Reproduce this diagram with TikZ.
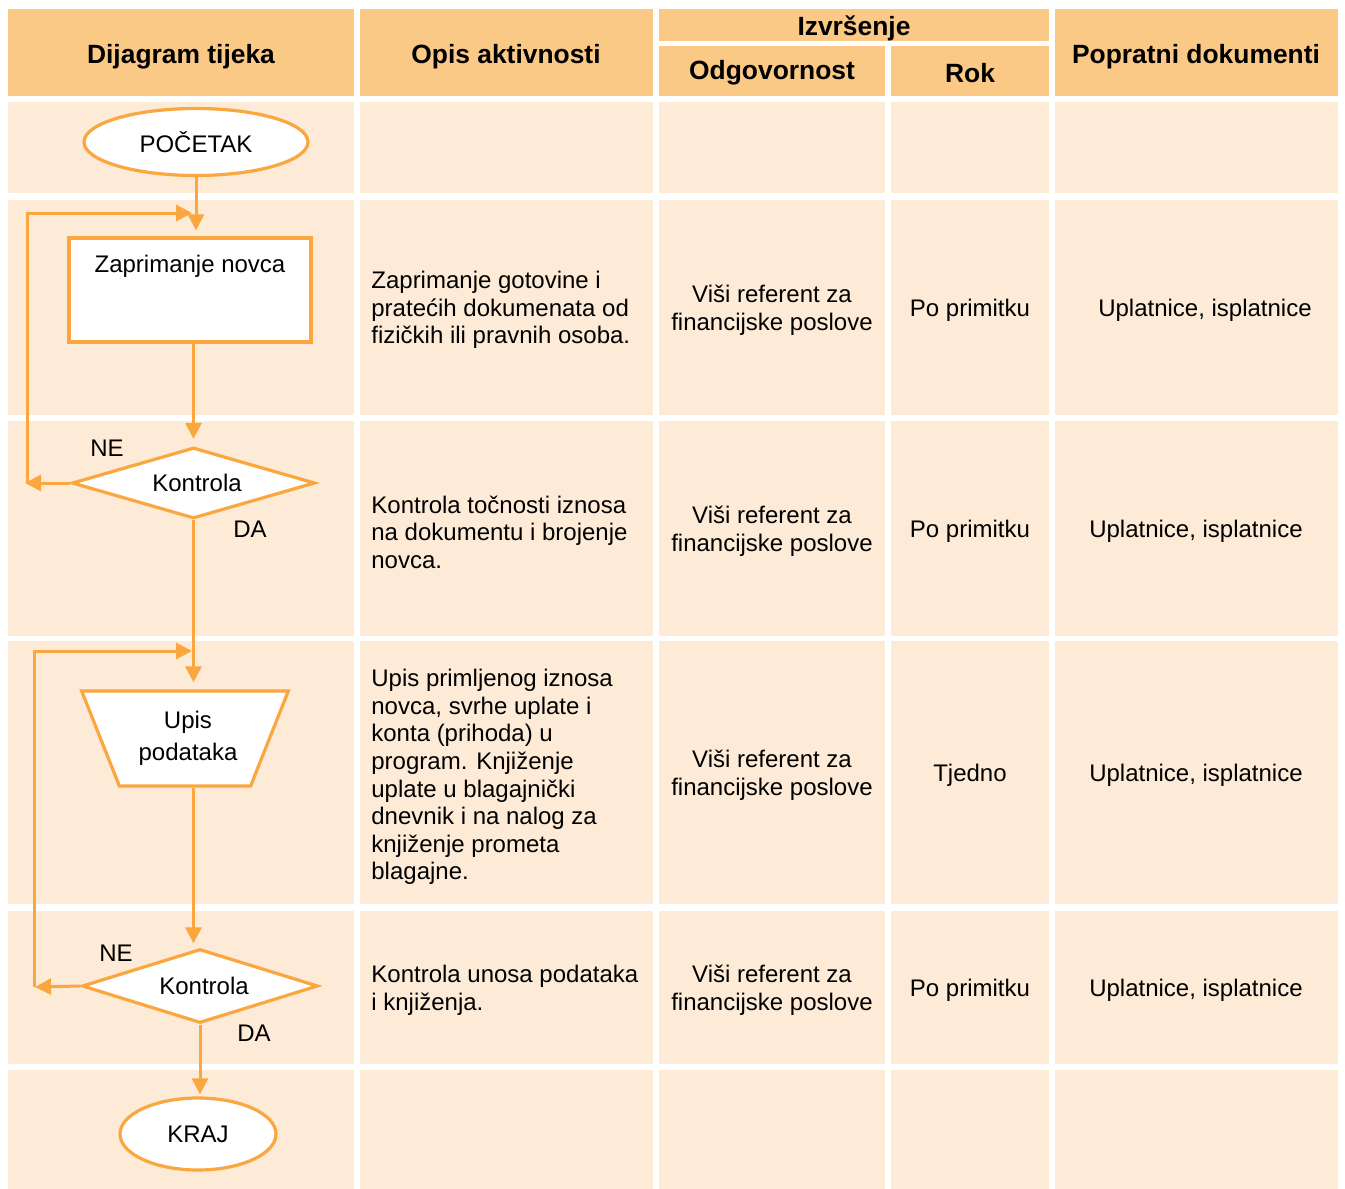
\documentclass[tikz,border=0pt]{standalone}
\usepackage{fontspec}
\setmainfont{Liberation Sans}
\usetikzlibrary{shapes.geometric,arrows.meta,calc}
\definecolor{hdr}{HTML}{FBC986}
\definecolor{cellc}{HTML}{FDEBD7}
\definecolor{lnc}{HTML}{F9A73E}
\begin{document}
\begin{tikzpicture}[x=0.5pt,y=-0.5pt,
 htext/.style={font=\fontsize{13.2}{15}\selectfont\bfseries, inner sep=0},
 btext/.style={font=\fontsize{12}{13.8}\selectfont, align=center, inner sep=0},
 ltext/.style={font=\fontsize{12}{13.8}\selectfont, align=left, inner sep=0, anchor=west},
 fbox/.style={draw=lnc, line width=1.6pt, fill=white, inner sep=0, font=\fontsize{12}{13.8}\selectfont},
 conn/.style={draw=lnc, line width=1.5pt},
 arr/.style={conn, -{Triangle[length=8pt,width=8pt]}},
]
\useasboundingbox (0,0) rectangle (1345,1189);
% header cells
\fill[hdr] (8,9) rectangle (354,96);
\fill[hdr] (360,9) rectangle (653,96);
\fill[hdr] (659,9) rectangle (1049,41);
\fill[hdr] (659,46) rectangle (885,96);
\fill[hdr] (891,46) rectangle (1049,96);
\fill[hdr] (1055,9) rectangle (1338,96);
% body cells
\foreach \ya/\yb in {102/193,200/415,421/636,641/904,911/1064,1070/1189}{
  \foreach \xa/\xb in {8/354,360/653,659/885,891/1049,1055/1338}{
    \fill[cellc] (\xa,\ya) rectangle (\xb,\yb);
  }
}
% header texts
\node[htext] (h1) at (181,57) {Dijagram tijeka};
\node[htext] (h2) at (506,57) {Opis aktivnosti};
\node[htext] (h3) at (854,28) {Izvršenje};
\node[htext] (h4) at (772,73) {Odgovornost};
\node[htext] (h5) at (970,73) {Rok};
\node[htext] (h6) at (1196,57) {Popratni dokumenti};
% row 2
\node[ltext] (o2) at (371,310) {Zaprimanje gotovine i\\pratećih dokumenata od\\fizičkih ili pravnih osoba.};
\node[btext] (a2) at (772,310) {Viši referent za\\financijske poslove};
\node[btext] (k2) at (970,310) {Po primitku};
\node[btext] (p2) at (1205,310) {Uplatnice, isplatnice};
% row 3
\node[ltext] (o3) at (371,532) {Kontrola točnosti iznosa\\na dokumentu i brojenje\\novca.};
\node[btext] (a3) at (772,531) {Viši referent za\\financijske poslove};
\node[btext] (k3) at (970,531) {Po primitku};
\node[btext] (p3) at (1196,531) {Uplatnice, isplatnice};
% row 4
\node[ltext] (o4) at (371,777) {Upis primljenog iznosa\\novca, svrhe uplate i\\konta (prihoda) u\\program. Knjiženje\\uplate u blagajnički\\dnevnik i na nalog za\\knjiženje prometa\\blagajne.};
\node[btext] (a4) at (772,775) {Viši referent za\\financijske poslove};
\node[btext] (k4) at (970,775) {Tjedno};
\node[btext] (p4) at (1196,775) {Uplatnice, isplatnice};
% row 5
\node[ltext] (o5) at (371,990) {Kontrola unosa podataka\\i knjiženja.};
\node[btext] (a5) at (772,990) {Viši referent za\\financijske poslove};
\node[btext] (k5) at (970,990) {Po primitku};
\node[btext] (p5) at (1196,990) {Uplatnice, isplatnice};
% flowchart
\node[fbox, ellipse, minimum width=112pt, minimum height=33.5pt] (start) at (196,142) {POČETAK};
\node[fbox, rectangle, minimum width=121pt, minimum height=52pt] (r1) at (190,290) {};
\node[btext] (r1t) at (190,266) {Zaprimanje novca};
\node[fbox, diamond, aspect=3.4, minimum width=121.5pt, minimum height=35.5pt] (d1) at (193.5,483) {\hspace{3.5pt}Kontrola};
\node[btext] (ne1) at (107,448) {NE};
\node[btext] (da1) at (250,529) {DA};
\node[fbox, trapezium, shape border rotate=180, trapezium left angle=61, trapezium right angle=61, trapezium stretches=true, minimum width=103.5pt, minimum height=47.5pt, align=center, font=\fontsize{12}{16}\selectfont] (tr) at (185,738.5) {\hspace{3pt}Upis\\\hspace{3pt}podataka};
\node[fbox, diamond, aspect=3.2, minimum width=118pt, minimum height=37pt] (d2) at (200,986) {\hspace{4pt}Kontrola};
\node[btext] (ne2) at (116,953) {NE};
\node[btext] (da2) at (254,1033) {DA};
\node[fbox, ellipse, minimum width=78pt, minimum height=36pt] (end) at (198,1134) {KRAJ};
% connectors
\coordinate (l1a) at (25,483);
\coordinate (l1b) at (27,483);
\coordinate (l1c) at (27,213);
\coordinate (l1d) at (192,213);
\coordinate (l2a) at (35,987);
\coordinate (l2b) at (34,987);
\coordinate (l2c) at (34,651);
\coordinate (l2d) at (192,651);
\draw[arr, shorten >=3pt] (start.south) -- (start.south |- r1.north);
\draw[arr, shorten >=3.5pt] (d1.north |- r1.south) -- (d1.north);
\draw[arr] (d1.west) -- (l1a);
\draw[arr] (l1b) -- (l1c) -- (l1d);
\draw[arr, shorten >=3.5pt] (d1.south) -- (d1.south |- tr.north);
\draw[arr] (l2b) -- (l2c) -- (l2d);
\draw[arr, shorten >=2pt] (tr.south -| d1.south) -- (d1.south |- d2.north);
\draw[arr] (d2.west) -- (l2a);
\draw[arr, shorten >=1pt] (d2.south) -- (d2.south |- end.north);
\end{tikzpicture}
\end{document}
